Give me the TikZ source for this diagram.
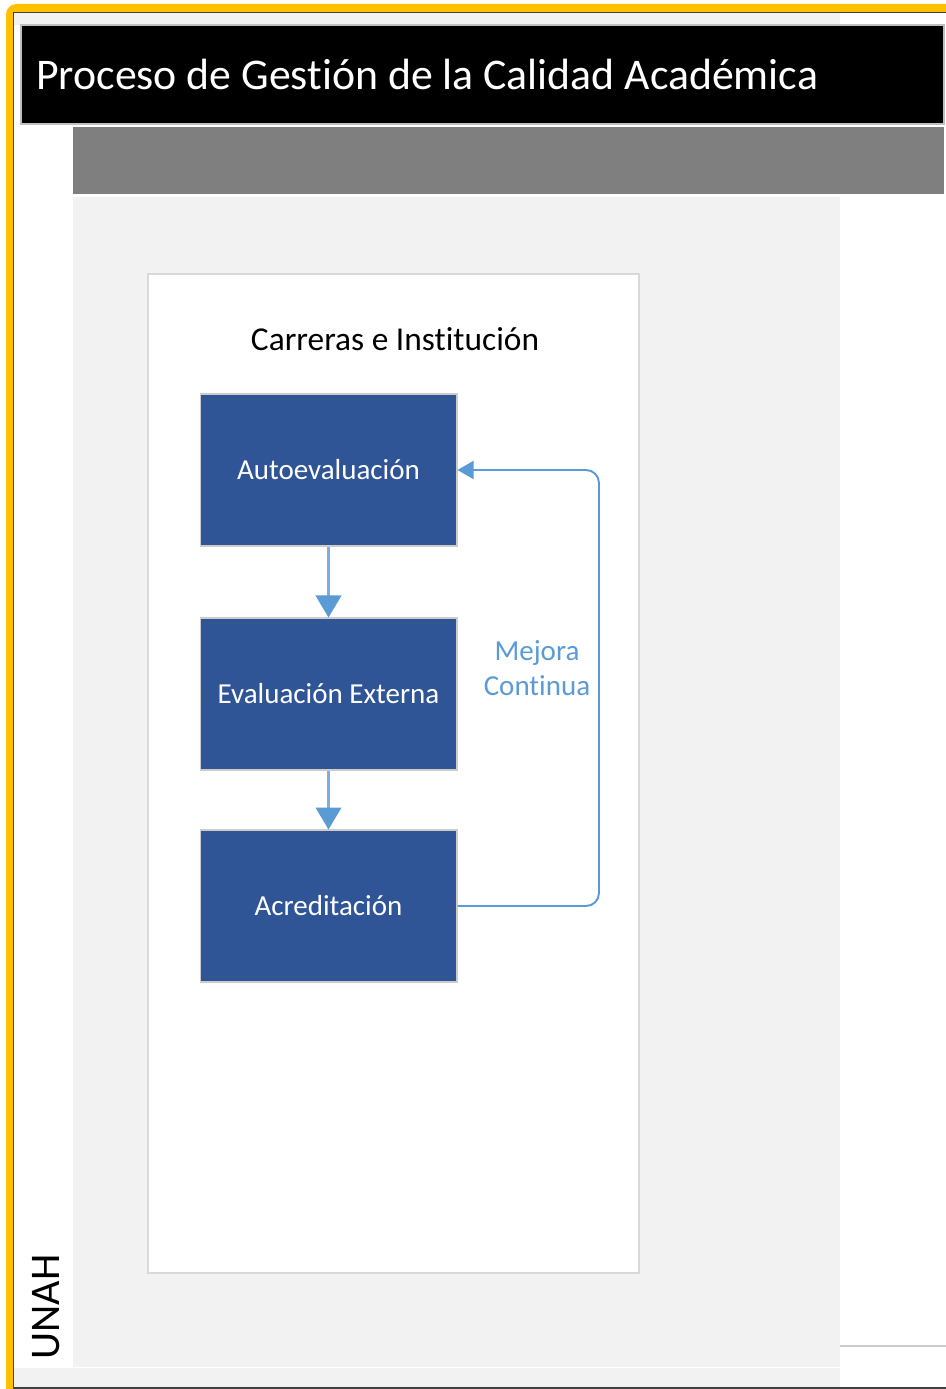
\documentclass[tikz,border=0pt]{standalone}
\usepackage{fontspec}
\setmainfont{Carlito}[Ligatures={NoCommon}]
\usetikzlibrary{arrows.meta}
\definecolor{frameyellow}{HTML}{FFC000}
\definecolor{boxblue}{HTML}{2F5597}
\definecolor{linkblue}{HTML}{5B9BD5}
\definecolor{panelgray}{HTML}{F2F2F2}
\definecolor{bargray}{HTML}{7F7F7F}
\tikzset{
    stage/.style={fill=boxblue, draw=black!20, line width=0.6pt, text=white,
        minimum width=5.14cm, minimum height=3.04cm, inner sep=0pt,
        font=\fontsize{16.5}{20}\selectfont},
    flow/.style={linkblue!80, line width=1.5pt,
        -{Triangle[width=0.51cm,length=0.44cm,linkblue]}},
    feedback/.style={linkblue, line width=1.1pt, rounded corners=0.26cm,
        -{Triangle[width=0.36cm,length=0.32cm]}}
}
\begin{document}
\begin{tikzpicture}[x=0.02cm, y=-0.02cm]
        \useasboundingbox (0,0) rectangle (946,1389);
        % frame
        \fill[white] (0,0) rectangle (946,1389);
        \fill[frameyellow, rounded corners=6pt] (6,4) rectangle (990,1420);
        \fill[black!75] (13,12) rectangle (990,1389);
        \fill[white] (14,13) rectangle (990,1387);
        \fill[panelgray] (14,13) rectangle (840,25);
        \fill[panelgray] (14,1368) rectangle (840,1387);
        \fill[panelgray] (73,197) rectangle (840,1367);
        \draw[black!20, line width=1pt] (840,1346) -- (946,1346);
        % title bars
        \draw[fill=black, draw=black!25, line width=0.8pt] (21,25) rectangle (944,124);
        \fill[bargray] (73,127) rectangle (944,194);
        \node[anchor=base west, inner sep=0pt, text=white, font=\fontsize{24.9}{29}\selectfont] (title) at (36,90)
            {Proceso de Gestión de la Calidad Académica};
        \node[rotate=90, font=\fontsize{24}{29}\selectfont] (unah) at (46,1307) {UNAH};
        % lane
        \draw[fill=white, draw=black!15, line width=1.1pt] (148,274) rectangle (639,1273);
        \node[anchor=base, font=\fontsize{19}{23}\selectfont] (lane) at (395,350) {Carreras e Institución};
        \foreach \n/\y/\t in {auto/470/Autoevaluación, ext/694/Evaluación Externa, acred/906/Acreditación} {
            \node[stage] (\n) at (328.5,\y) {\t};
        }
        \draw[flow] (auto) -- (ext);
        \draw[flow] (ext) -- (acred);
        \coordinate (turn) at (599,470);
        \draw[feedback] (acred.east) -| (turn) -- (auto.east);
        \node[align=center, text=linkblue, font=\fontsize{16.5}{20}\selectfont] (mejora) at (537,668)
            {Mejora\\Continua};
        \end{tikzpicture}
\end{document}
